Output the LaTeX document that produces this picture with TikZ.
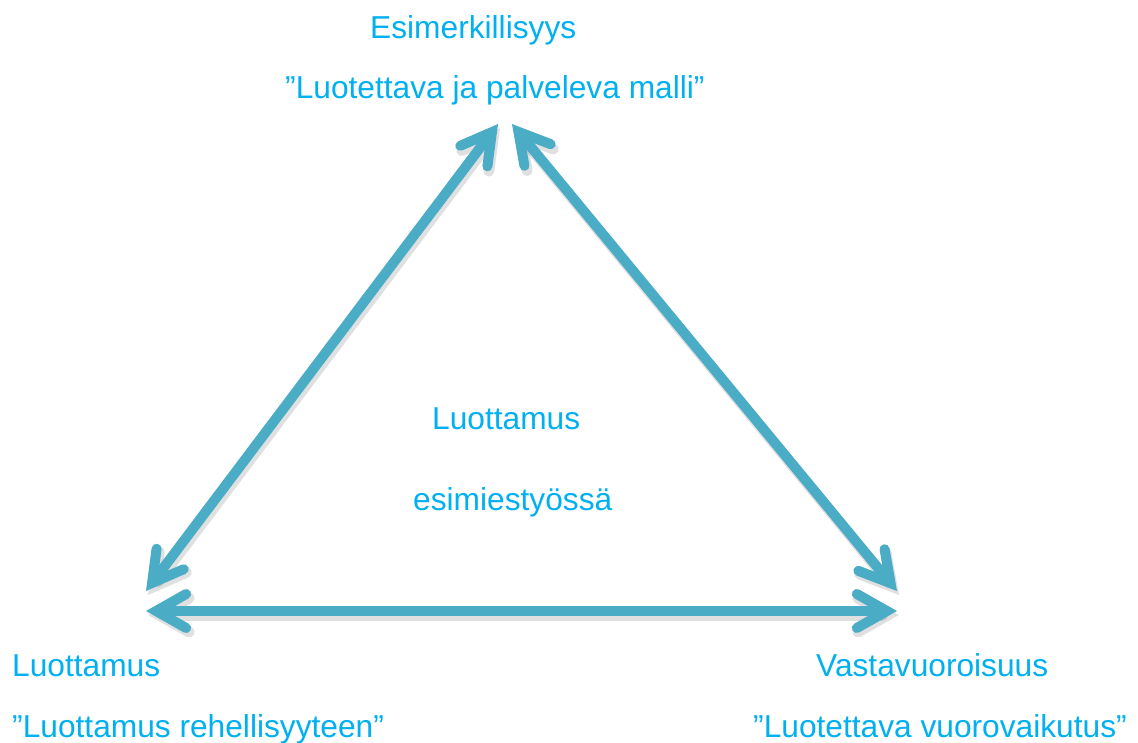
\documentclass[tikz,border=0pt]{standalone}
\usepackage{fontspec}
\setmainfont{Liberation Sans}
\usetikzlibrary{arrows.meta}
\definecolor{txtblue}{HTML}{00B0F0}
\definecolor{arrblue}{HTML}{4BACC6}
\begin{document}
\begin{tikzpicture}[x=1pt,y=-1pt,
  lbl/.style={anchor=base west,inner sep=0pt,text=txtblue,font=\fontsize{31.7}{38}\selectfont},
  barb/.tip={Straight Barb[length=30pt,width=34pt,line cap=round,line join=miter]},
  dbl/.style={line width=10pt,draw=arrblue,line cap=round,barb-barb},
  shadowline/.style={line width=11pt,draw=black,opacity=0.12,line cap=round,barb-barb}]
\useasboundingbox (0,0) rectangle (1138,742);
\fill[white] (0,0) rectangle (1138,742);
% text
\node[lbl] (t1) at (370,38.5) {Esimerkillisyys};
\node[lbl] (t2) at (285,98.5) {”Luotettava ja palveleva malli”};
\node[lbl] (c1) at (432,429) {Luottamus};
\node[lbl] (c2) at (413,510) {esimiestyössä};
\node[lbl] (l1) at (12,676) {Luottamus};
\node[lbl] (l2) at (12,737) {”Luottamus rehellisyyteen”};
\node[lbl] (r1) at (816,676) {Vastavuoroisuus};
\node[lbl] (r2) at (753,737) {”Luotettava vuorovaikutus”};
% arrow end points
\coordinate (tl) at (498,124);
\coordinate (tr) at (512,124);
\coordinate (bl) at (146,591);
\coordinate (br) at (897,591);
\coordinate (hl) at (146,611);
\coordinate (hr) at (897,611);
% shadows
\draw[shadowline] ([shift={(2,4)}]bl) -- ([shift={(2,4)}]tl);
\draw[shadowline] ([shift={(2,4)}]tr) -- ([shift={(2,4)}]br);
\draw[shadowline] ([shift={(2,4)}]hl) -- ([shift={(2,4)}]hr);
% arrows
\draw[dbl] (bl) -- (tl);
\draw[dbl] (tr) -- (br);
\draw[dbl] (hl) -- (hr);
\end{tikzpicture}
\end{document}
